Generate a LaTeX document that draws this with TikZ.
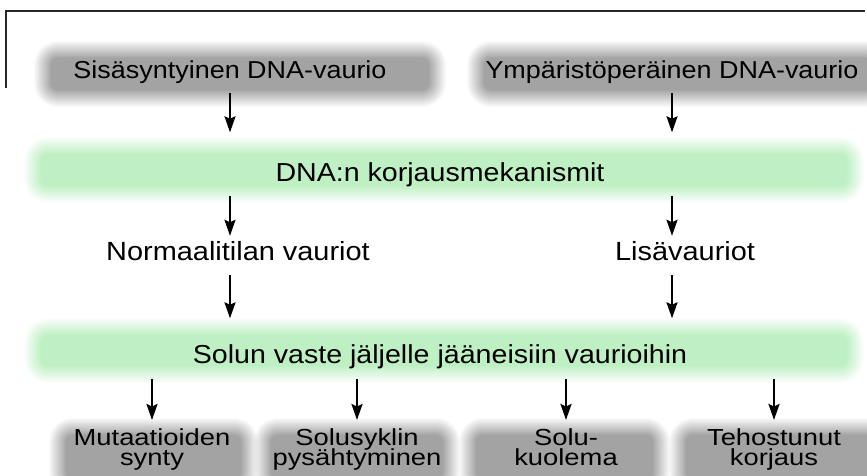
\documentclass[tikz,border=0pt]{standalone}
\usepackage{fontspec}
\setmainfont{Liberation Sans}[FakeStretch=1.1]
\newfontfamily\botfont{Liberation Sans}[FakeStretch=1.18]
\usetikzlibrary{arrows.meta}
\definecolor{glowgray}{RGB}{163,163,163}
\definecolor{glowgreen}{RGB}{190,240,195}
\definecolor{framec}{RGB}{40,40,40}
\newcommand\glowbox[5]{%
  \foreach \k in {0,...,17}{%
    \pgfmathsetmacro\rr{max(4,24-\k)}%
    \pgfmathsetmacro\op{1/(18-\k)}%
    \fill[#5, fill opacity=\op, rounded corners=\rr pt]
      ({#1+1.0*\k},{#2+1.0*\k}) rectangle ({#3-1.0*\k},{#4-1.0*\k});
  }}
\newcommand\tightlines{\lineskiplimit=-20pt\relax}
\begin{document}
\begin{tikzpicture}[x=1pt,y=-1pt,
  toptxt/.style={inner sep=0pt, anchor=base, text height=17.5pt, text depth=0pt,
    font=\fontsize{24.5}{28}\selectfont},
  bartxt/.style={inner sep=0pt, anchor=base, text height=18.5pt, text depth=0pt,
    font=\fontsize{26}{30}\selectfont},
  midtxt/.style={inner sep=0pt, anchor=base, text height=19pt, text depth=0pt,
    font=\fontsize{26.3}{30}\selectfont},
  bottxt/.style={inner sep=0pt, anchor=base, align=center,
    font=\botfont\fontsize{23.2}{20}\selectfont\tightlines},
  arr/.style={line width=2.2pt, -{Stealth[length=16pt,width=11pt,inset=2.5pt]}}]
\path[clip] (0,0) rectangle (867,475);
% glows
\glowbox{34}{41}{446}{107}{glowgray}
\glowbox{467}{41}{889}{107}{glowgray}
\glowbox{24}{137}{864}{203}{glowgreen}
\glowbox{24}{318}{864}{383}{glowgreen}
\glowbox{49}{418}{258}{496}{glowgray}
\glowbox{254}{418}{460}{496}{glowgray}
\glowbox{459}{418}{670}{496}{glowgray}
\glowbox{669}{418}{889}{496}{glowgray}
% frame
\draw[framec, line width=1.3pt] (6,88) -- (6,11) -- (865,11);
% nodes
\node[toptxt] (s1) at (230,78) {Sisäsyntyinen DNA-vaurio};
\node[toptxt] (s2) at (672,78) {Ympäristöperäinen DNA-vaurio};
\node[bartxt] (k1) at (440,181) {DNA:n korjausmekanismit};
\node[midtxt] (n1) at (238,260) {Normaalitilan vauriot};
\node[midtxt] (n2) at (685,260) {Lisävauriot};
\node[bartxt] (v) at (440,363) {Solun vaste jäljelle jääneisiin vaurioihin};
\node[bottxt] (b1) at (152,465) {Mutaatioiden\\synty};
\node[bottxt] (b2) at (357,465) {Solusyklin\\pysähtyminen};
\node[bottxt] (b3) at (566,465) {Solu-\\kuolema};
\node[bottxt] (b4) at (774,465) {Tehostunut\\korjaus};
% arrows
\draw[arr] ([yshift=-15pt]s1.south) -- ([yshift=30pt]k1.north -| s1.south);
\draw[arr] ([yshift=-15pt]s2.south) -- ([yshift=30pt]k1.north -| s2.south);
\draw[arr] ([yshift=-15pt]k1.south -| s1.south) -- ([yshift=5pt]n1.north -| s1.south);
\draw[arr] ([yshift=-15pt]k1.south -| s2.south) -- ([yshift=5pt]n2.north -| s2.south);
\draw[arr] ([yshift=-15pt]n1.south -| s1.south) -- ([yshift=26pt]v.north -| s1.south);
\draw[arr] ([yshift=-15pt]n2.south -| s2.south) -- ([yshift=26pt]v.north -| s2.south);
\draw[arr] ([yshift=-16pt]v.south -| b1.south) -- ([yshift=8pt]b1.north);
\draw[arr] ([yshift=-16pt]v.south -| b2.south) -- ([yshift=8pt]b2.north);
\draw[arr] ([yshift=-16pt]v.south -| b3.south) -- ([yshift=8pt]b3.north);
\draw[arr] ([yshift=-16pt]v.south -| b4.south) -- ([yshift=8pt]b4.north);
\end{tikzpicture}
\end{document}
